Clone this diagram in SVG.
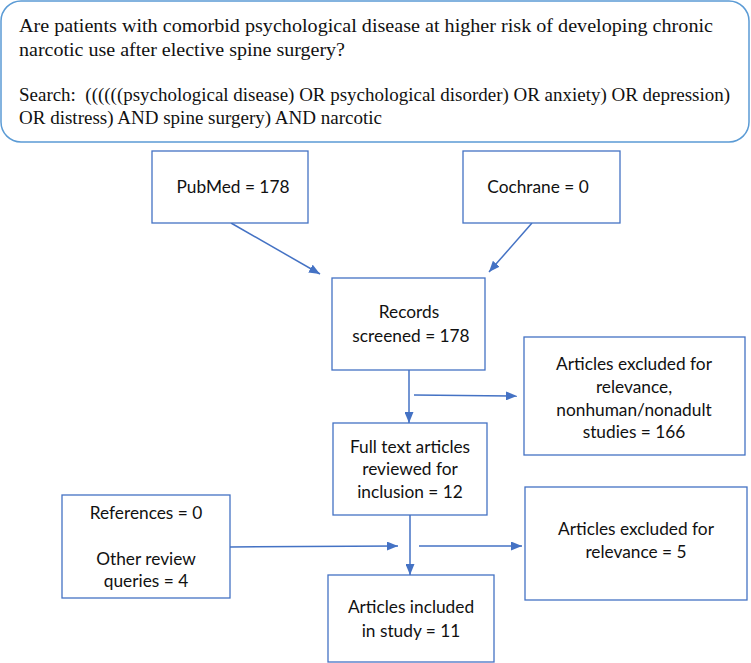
<svg xmlns="http://www.w3.org/2000/svg" width="751" height="663" viewBox="0 0 751 663">
<defs>
<style>
.box{fill:#fff;stroke:#4472C4;stroke-width:1.3}
.top{fill:#fff;stroke:#5B9BD5;stroke-width:1.5}
.t{font-family:Lato,"Open Sans",sans-serif;font-size:17.3px;fill:#111;text-anchor:middle}
.s{font-family:"Liberation Serif",serif;font-size:19.5px;fill:#111}
.c{stroke:#4472C4;stroke-width:1.5;fill:none;marker-end:url(#ah)}
</style>
<marker id="ah" markerWidth="11" markerHeight="9" refX="11" refY="4.5" orient="auto" markerUnits="userSpaceOnUse">
<path d="M0,0 L11,4.5 L0,9 Z" fill="#4472C4"/>
</marker>
</defs>
<rect width="751" height="663" fill="#fff"/>
<g id="question">
<rect class="top" x="1" y="1" width="748" height="141" rx="20" ry="20"/>
<text class="s" x="19" y="32" textLength="694" lengthAdjust="spacingAndGlyphs">Are patients with comorbid psychological disease at higher risk of developing chronic</text>
<text class="s" x="19" y="56" textLength="326" lengthAdjust="spacingAndGlyphs">narcotic use after elective spine surgery?</text>
<text class="s" x="19" y="101" xml:space="preserve" textLength="711" lengthAdjust="spacingAndGlyphs">Search:  ((((((psychological disease) OR psychological disorder) OR anxiety) OR depression)</text>
<text class="s" x="19" y="124" textLength="363" lengthAdjust="spacingAndGlyphs">OR distress) AND spine surgery) AND narcotic</text>
</g>
<g id="connectors">
<line class="c" x1="231" y1="223" x2="320" y2="274"/>
<line class="c" x1="532" y1="223" x2="489" y2="272"/>
<line class="c" x1="409" y1="370" x2="409" y2="423"/>
<line class="c" x1="414" y1="395" x2="517" y2="396"/>
<line class="c" x1="410" y1="515" x2="410" y2="575"/>
<line class="c" x1="230" y1="547" x2="398" y2="546"/>
<line class="c" x1="419" y1="546" x2="522" y2="546"/>
</g>
<g id="pubmed">
<rect class="box" x="152" y="151" width="156" height="72"/>
<text class="t" x="233" y="193">PubMed = 178</text>
</g>
<g id="cochrane">
<rect class="box" x="463" y="151" width="157" height="72"/>
<text class="t" x="538" y="193">Cochrane = 0</text>
</g>
<g id="records">
<rect class="box" x="332" y="278" width="153" height="92"/>
<text class="t" x="409" y="318">Records</text>
<text class="t" x="411" y="342">screened = 178</text>
</g>
<g id="excluded1">
<rect class="box" x="524" y="337" width="221" height="118"/>
<text class="t" x="634" y="370">Articles excluded for</text>
<text class="t" x="634" y="393">relevance,</text>
<text class="t" x="634" y="416">nonhuman/nonadult</text>
<text class="t" x="634" y="438">studies = 166</text>
</g>
<g id="fulltext">
<rect class="box" x="333" y="423" width="154" height="92"/>
<text class="t" x="410" y="453">Full text articles</text>
<text class="t" x="410" y="475">reviewed for</text>
<text class="t" x="410" y="498">inclusion = 12</text>
</g>
<g id="excluded2">
<rect class="box" x="525" y="487" width="222" height="113"/>
<text class="t" x="636" y="535">Articles excluded for</text>
<text class="t" x="636" y="558">relevance = 5</text>
</g>
<g id="references">
<rect class="box" x="62" y="495" width="168" height="103"/>
<text class="t" x="146" y="519">References = 0</text>
<text class="t" x="146" y="565">Other review</text>
<text class="t" x="146" y="587">queries = 4</text>
</g>
<g id="included">
<rect class="box" x="328" y="575" width="166" height="87"/>
<text class="t" x="411" y="613">Articles included</text>
<text class="t" x="411" y="637">in study = 11</text>
</g>
</svg>
